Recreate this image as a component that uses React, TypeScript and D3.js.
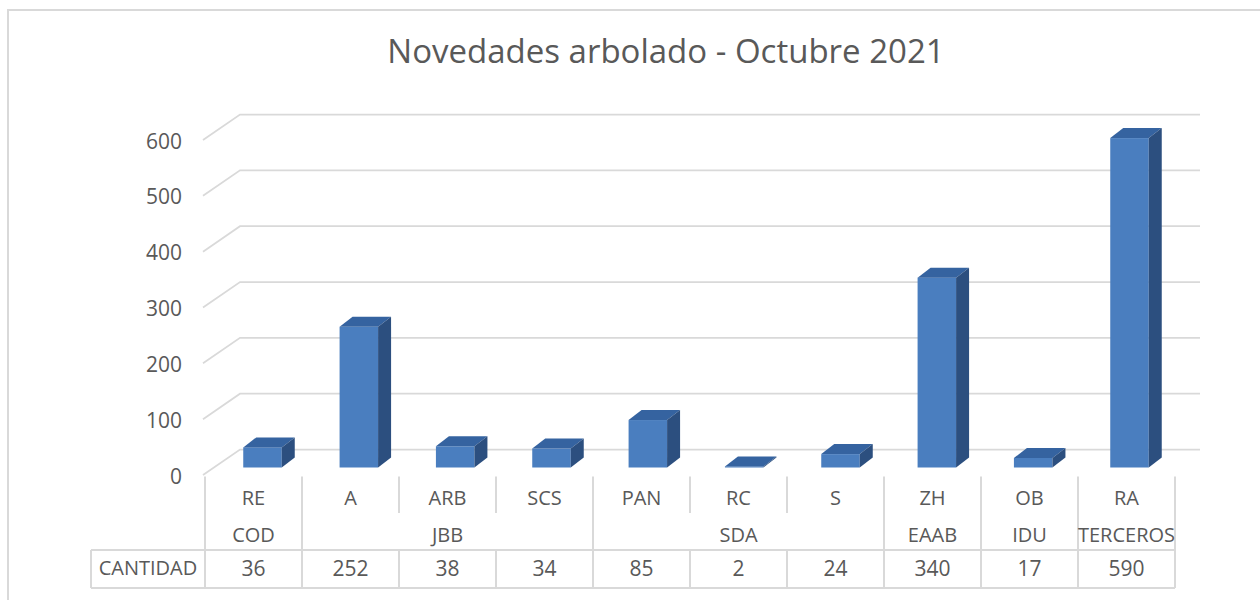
import React from "react";
import * as d3 from "d3";

const title = "Novedades arbolado - Octubre 2021";
const categories = ["RE", "A", "ARB", "SCS", "PAN", "RC", "S", "ZH", "OB", "RA"];
const values = [36, 252, 38, 34, 85, 2, 24, 340, 17, 590];
const groupNames = ["COD", "JBB", "SDA", "EAAB", "IDU", "TERCEROS"];
const groupSpans = [1, 3, 3, 1, 1, 1];
const yTicks = [0, 100, 200, 300, 400, 500, 600];
const rowLabel = "CANTIDAD";

const FONT = "'Open Sans', sans-serif";
const TEXT = "#595959";
const GRID = "#d9d9d9";

export default function App() {
  const W = 1260, H = 600;
  const tableLeft = 91, plotLeft = 205, plotRight = 1175;
  const x = d3.scaleBand<string>().domain(categories).range([plotLeft, plotRight]).padding(0);
  const yFront = d3.scaleLinear().domain([0, 600]).range([475, 140]);
  const yBar = d3.scaleLinear().domain([0, 600]).range([467.5, 132.5]);
  const wallDx = 37, wallDy = -25.5, wallRight = 1200, axisX = 203;
  const barW = 38.5, bdx = 13, bdy = -10;
  const shift = d3.scaleLinear().domain([0, categories.length - 1]).range([9, 3]);

  const bw = x.bandwidth();
  const rowCatY = 500, rowGrpY = 537, rowValY = 570;
  const tableTop = 476.5, shortEnd = 513, lineMid = 550, lineBot = 588;

  const boundaries = new Set<number>([0]);
  let acc = 0;
  const groupCenters: number[] = [];
  groupSpans.forEach((s) => {
    const start = plotLeft + acc * bw;
    acc += s;
    boundaries.add(acc);
    groupCenters.push(start + (s * bw) / 2);
  });

  return (
    <svg width={W} height={H} style={{ position: "absolute", left: 0, top: 0, background: "#fff" }}>
      <rect x={8} y={10} width={1300} height={700} fill="#fff" stroke={GRID} strokeWidth={2} />
      <text x={666} y={63} textAnchor="middle" fontFamily={FONT} fontSize={33} fill={TEXT}>
        {title}
      </text>
      {yTicks.map((t) => {
        const yf = yFront(t);
        const yb = yf + wallDy;
        return (
          <path key={"g" + t} d={`M${axisX},${yf}L${axisX + wallDx},${yb}L${wallRight},${yb}`}
            fill="none" stroke={GRID} strokeWidth={1.75} />
        );
      })}
      {yTicks.map((t) => (
        <text key={"t" + t} x={182} y={yFront(t) + 3} textAnchor="end" dominantBaseline="middle"
          fontFamily={FONT} fontSize={21} fill={TEXT}>{t}</text>
      ))}
      {categories.map((c, i) => {
        const cx = (x(c) as number) + bw / 2 + shift(i);
        const x0 = cx - barW / 2, x1 = cx + barW / 2;
        const yb = yBar(0), yt = yBar(values[i]);
        return (
          <g key={"b" + c}>
            <rect x={x0} y={yt} width={barW} height={Math.max(yb - yt, 0.5)} fill="#4a7ebf" />
            <polygon points={`${x0},${yt} ${x1},${yt} ${x1 + bdx},${yt + bdy} ${x0 + bdx},${yt + bdy}`} fill="#3563a0" />
            <polygon points={`${x1},${yt} ${x1 + bdx},${yt + bdy} ${x1 + bdx},${yb + bdy} ${x1},${yb}`} fill="#2c4f7f" />
          </g>
        );
      })}
      {d3.range(categories.length + 1).map((k) => {
        const lx = plotLeft + k * bw;
        if (boundaries.has(k)) {
          return <line key={"v" + k} x1={lx} x2={lx} y1={tableTop} y2={lineBot} stroke={GRID} strokeWidth={2} />;
        }
        return (
          <g key={"v" + k}>
            <line x1={lx} x2={lx} y1={tableTop} y2={shortEnd} stroke={GRID} strokeWidth={2} />
            <line x1={lx} x2={lx} y1={lineMid} y2={lineBot} stroke={GRID} strokeWidth={2} />
          </g>
        );
      })}
      <line x1={tableLeft} x2={tableLeft} y1={lineMid} y2={lineBot} stroke={GRID} strokeWidth={2} />
      <line x1={tableLeft} x2={plotRight} y1={lineMid} y2={lineMid} stroke={GRID} strokeWidth={2} />
      <line x1={tableLeft} x2={plotRight} y1={lineBot} y2={lineBot} stroke={GRID} strokeWidth={2} />
      {categories.map((c) => (
        <text key={"c" + c} x={(x(c) as number) + bw / 2} y={rowCatY} textAnchor="middle" dominantBaseline="middle"
          fontFamily={FONT} fontSize={20} fill={TEXT}>{c}</text>
      ))}
      {groupNames.map((g, i) => (
        <text key={"gr" + g} x={groupCenters[i]} y={rowGrpY} textAnchor="middle" dominantBaseline="middle"
          fontFamily={FONT} fontSize={20} fill={TEXT}>{g}</text>
      ))}
      {categories.map((c, i) => (
        <text key={"val" + c} x={(x(c) as number) + bw / 2} y={rowValY} textAnchor="middle" dominantBaseline="middle"
          fontFamily={FONT} fontSize={21} fill={TEXT}>{values[i]}</text>
      ))}
      <text x={(tableLeft + plotLeft) / 2} y={rowValY} textAnchor="middle" dominantBaseline="middle"
        fontFamily={FONT} fontSize={20} fill={TEXT}>{rowLabel}</text>
    </svg>
  );
}
